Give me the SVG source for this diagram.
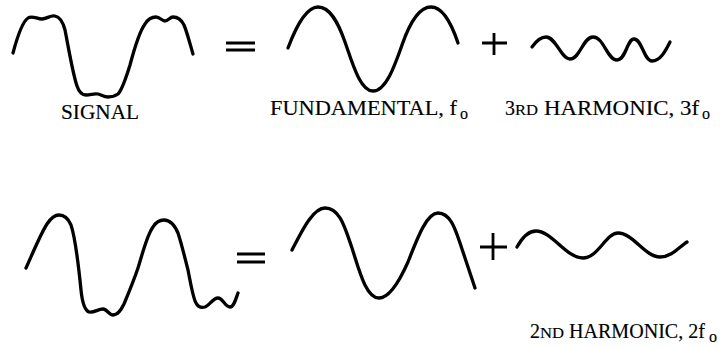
<svg xmlns="http://www.w3.org/2000/svg" width="725" height="349" viewBox="0 0 725 349">
<style>
.w{fill:none;stroke:#000;stroke-width:3.3;stroke-linecap:round;stroke-linejoin:round}
.op{fill:none;stroke:#000;stroke-width:2.8;stroke-linecap:butt}
.t{font-family:"Liberation Serif","Times New Roman",serif;font-size:20px;fill:#000;stroke:#000;stroke-width:0.15}
.sc{font-size:15px}
.sub{font-size:16px}
</style>
<rect width="725" height="349" fill="#fff"/>
<g id="row1">
<g id="signal1">
<path class="w" d="M13,53 C17,38 22,22 28,18 C32,15 37,19 42,19 C47,19 50,15 55,16 C60,17 63,22 65,30 C68,45 73,75 77,86 C79,92 82,95 86,95 C91,95 94,93 98,94 C102,95 104,97 108,97 C112,97 115,96 118,94 C122,90 126,78 130,65 C134,50 139,32 145,24 C148,19 152,17 156,17 C160,17 162,21 165,21 C168,21 170,17 173,17 C177,17 181,19 184,25 C187,32 190,44 193,54"/>
<text class="t" x="61" y="119" textLength="78" lengthAdjust="spacingAndGlyphs">SIGNAL</text>
</g>
<g id="eq1"><path class="op" d="M226,43 H255 M226,50 H255"/></g>
<g id="fund1">
<path class="w" d="M288,48 C294,32 305,7 318,7 C330,7 338,22 345,42 C352,62 360,91 373,91 C386,91 395,65 402,45 C410,22 420,7 431,7 C443,7 452,25 458,43"/>
<text class="t" y="115"><tspan x="270" textLength="187" lengthAdjust="spacingAndGlyphs">FUNDAMENTAL, f</tspan><tspan class="sub" x="460" dy="4">o</tspan></text>
</g>
<g id="plus1"><path class="op" d="M482,43 H507 M494,33 V55"/></g>
<g id="harm3">
<path class="w" d="M532,47 C537,40 541,37 546,37 C556,37 561,59 570,59 C580,59 583,37 593,37 C604,37 607,60 617,60 C626,60 627,39 634,39 C642,39 644,61 652,61 C660,61 665,52 670,42"/>
<text class="t" y="115"><tspan x="505">3</tspan><tspan class="sc" x="515" textLength="23" lengthAdjust="spacingAndGlyphs">RD</tspan><tspan x="544" textLength="155" lengthAdjust="spacingAndGlyphs">HARMONIC, 3f</tspan><tspan class="sub" x="702" dy="4">o</tspan></text>
</g>
</g>
<g id="row2">
<g id="signal2">
<path class="w" d="M26,268 C32,255 40,235 47,224 C51,218 55,215 59,215 C64,215 68,218 71,225 C76,240 79,270 81,290 C82,300 84,310 89,312 C94,313 98,309 103,309 C107,309 109,315 113,315 C118,315 121,310 124,304 C129,292 134,280 138,268 C143,252 147,235 153,227 C156,222 160,220 164,220 C170,220 175,226 178,233 C181,242 185,258 188,270 C191,285 193,298 196,303 C198,307 201,308 205,307 C209,306 213,298 218,298 C223,298 225,307 230,307 C234,307 236,298 238,293"/>
</g>
<g id="eq2"><path class="op" d="M237,254 H265 M237,262 H265"/></g>
<g id="fund2">
<path class="w" d="M292,250 C300,235 312,208 325,208 C340,208 345,228 352,248 C359,270 366,298 379,298 C390,298 400,280 408,262 C416,242 426,213 438,213 C450,213 455,228 460,243 C465,258 470,273 475,288"/>
</g>
<g id="plus2"><path class="op" d="M480,247 H507 M493,233 V260"/></g>
<g id="harm2">
<path class="w" d="M517,247 C522,238 528,231 536,231 C552,231 566,258 583,258 C598,258 606,233 618,233 C633,233 645,257 660,257 C672,257 680,246 687,242"/>
<text class="t" y="338"><tspan x="530">2</tspan><tspan class="sc" x="540" textLength="24" lengthAdjust="spacingAndGlyphs">ND</tspan><tspan x="569" textLength="136" lengthAdjust="spacingAndGlyphs">HARMONIC, 2f</tspan><tspan class="sub" x="709" dy="4">o</tspan></text>
</g>
</g>
</svg>
